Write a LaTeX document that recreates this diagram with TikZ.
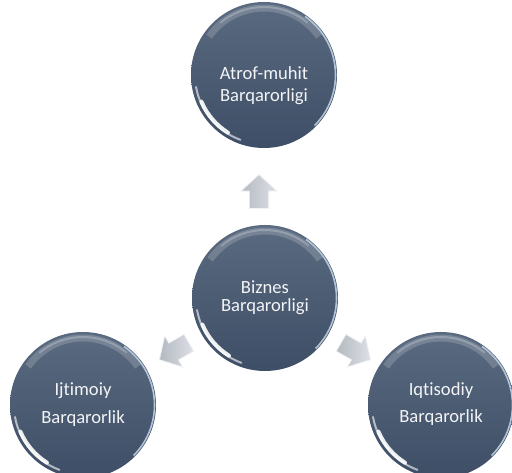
\documentclass[tikz,border=0pt]{standalone}
\usepackage{fontspec}
\setmainfont{Carlito}[Ligatures=NoCommon]
\usetikzlibrary{shapes.arrows}

\definecolor{bubbletop}{HTML}{5A6A80}
\definecolor{bubblebot}{HTML}{3E4E66}
\definecolor{bubblelight}{HTML}{C4D6E8}
\definecolor{bubbletext}{HTML}{F2F4F7}
\definecolor{arrowtop}{HTML}{DDE0E5}
\definecolor{arrowbot}{HTML}{B4B9C1}
\definecolor{arrowedge}{HTML}{F0F2F5}

\tikzset{
  bubble/.style={circle, minimum size=146pt, inner sep=0pt,
    top color=bubbletop, bottom color=bubblebot,
    path picture={
      \coordinate (c) at (path picture bounding box.center);
      % sheen along the top
      \draw[white, opacity=0.18, line width=7pt]
        ([shift={(145:67pt)}]c) arc (145:35:67pt);
      \draw[white, opacity=0.22, line width=2pt]
        ([shift={(130:68pt)}]c) arc (130:50:68pt);
      % gloss at the lower left
      \draw[white, opacity=0.6, line width=2pt, line cap=round]
        ([shift={(190:69pt)}]c) arc (190:250:69pt);
      \draw[white, opacity=0.9, line width=4pt, line cap=round]
        ([shift={(203:68pt)}]c) arc (203:238:68pt);
      % light rim on the right
      \draw[bubblelight, opacity=0.85, line width=1.6pt]
        ([shift={(-45:71.5pt)}]c) arc (-45:55:71.5pt);
    }},
  bubbletext/.style={align=center, text=bubbletext, inner sep=0pt},
  blockarrow/.style={single arrow, minimum height=34pt, minimum width=36pt,
    single arrow head extend=8pt, single arrow tip angle=95,
    inner xsep=0pt, inner ysep=9pt,
    left color=arrowbot, right color=arrowtop, draw=arrowedge, line width=0.8pt},
}

\begin{document}
\begin{tikzpicture}[x=1pt, y=1pt]
  \useasboundingbox (0,0) rectangle (512,473);

  % Circles
  \foreach \name/\x/\y in {atrof/264/398, biznes/265/175,
    ijtimoiy/83/68, iqtisodiy/441/68}
    \node[bubble] (\name) at (\x,\y) {};

  % Texts in the circles
  \foreach \name/\dy/\lead/\txt in {atrof/-11/22/{Atrof-muhit\\Barqarorligi},
    biznes/0/18/{Biznes\\Barqarorligi}, ijtimoiy/0/28/{Ijtimoiy\\Barqarorlik},
    iqtisodiy/1/27/{Iqtisodiy\\Barqarorlik}}
    \node[bubbletext, font=\fontsize{18.6}{\lead}\selectfont] (\name-txt)
      at ([yshift=\dy pt]\name.center) {\txt};

  % Block arrows out of the centre
  \foreach \name/\x/\y/\ang in {up/259/277/90, left/178/124/210,
    right/352/124/-30}
    \node[blockarrow, rotate=\ang] (arrow-\name) at (\x,\y) {};
\end{tikzpicture}
\end{document}
